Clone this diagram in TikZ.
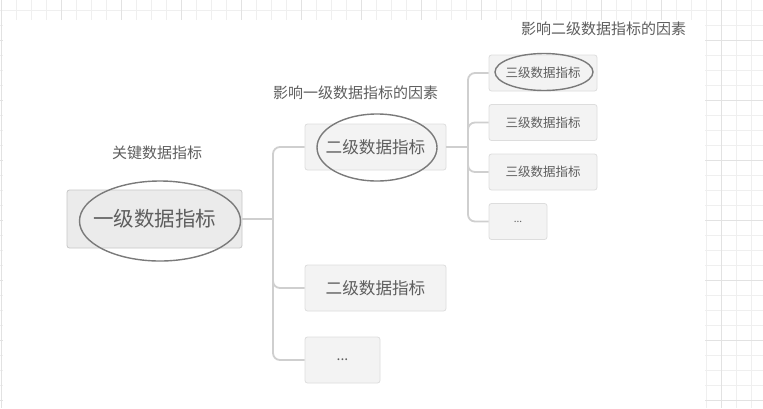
\documentclass[tikz,border=0pt]{standalone}
\usepackage{fontspec}
\setmainfont{Noto Sans CJK SC}
\usetikzlibrary{shapes.geometric}
\definecolor{gridminor}{HTML}{EFEFEF}
\definecolor{gridmajor}{HTML}{E2E2E2}
\definecolor{boxfill}{HTML}{F3F3F3}
\definecolor{rootfill}{HTML}{EBEBEB}
\definecolor{boxline}{HTML}{DDDDDD}
\definecolor{linkc}{HTML}{CFCFCF}
\definecolor{ringc}{HTML}{7A7A7A}
\definecolor{txt}{HTML}{5E5E5E}
\tikzset{
  topic/.style={draw=boxline, fill=boxfill, rounded corners=2.5pt, line width=0.8pt, text=txt, inner sep=0pt},
  roottopic/.style={topic, fill=rootfill, draw=boxline!90!black},
  link/.style={draw=linkc, line width=1.8pt, rounded corners=7pt},
  ring/.style={draw=ringc, line width=1.4pt, ellipse, inner sep=0pt},
  lbl/.style={text=txt, font=\fontsize{15}{17}\selectfont, inner sep=0pt}
}
\begin{document}
\begin{tikzpicture}[x=1pt,y=-1pt]
\useasboundingbox (0,0) rectangle (763,408);
% grid background
\foreach \i in {0,...,51} \draw[gridminor, line width=0.6pt] (1+15*\i,0) -- (1+15*\i,408);
\foreach \i in {0,...,27} \draw[gridminor, line width=0.6pt] (0,10+15*\i) -- (763,10+15*\i);
\foreach \i in {0,...,12} \draw[gridmajor, line width=0.8pt] (1+60*\i,0) -- (1+60*\i,408);
\foreach \i in {0,...,6} \draw[gridmajor, line width=0.8pt] (0,40+60*\i) -- (763,40+60*\i);
\fill[white] (2.5,20) rectangle (705,408);

% nodes
\node[roottopic, minimum width=175, minimum height=58, font=\fontsize{20.5}{22}\selectfont] (root) at (154.5,219) {一级数据指标};
\node[topic, minimum width=141, minimum height=46, font=\fontsize{16.6}{18}\selectfont] (a1) at (375.5,147) {二级数据指标};
\node[topic, minimum width=141, minimum height=46, font=\fontsize{16.6}{18}\selectfont] (a2) at (375.5,288) {二级数据指标};
\node[topic, minimum width=75, minimum height=46, font=\fontsize{14}{16}\selectfont] (a3) at (342.5,360) {...};
\node[topic, minimum width=108, minimum height=36, font=\fontsize{12.5}{14}\selectfont] (b1) at (543,73) {三级数据指标};
\node[topic, minimum width=108, minimum height=36, font=\fontsize{12.5}{14}\selectfont] (b2) at (543,122.5) {三级数据指标};
\node[topic, minimum width=108, minimum height=36, font=\fontsize{12.5}{14}\selectfont] (b3) at (543,172) {三级数据指标};
\node[topic, minimum width=58, minimum height=36, font=\fontsize{10}{12}\selectfont] (b4) at (518,221.5) {...};

% labels
\node[lbl] (l0) at (157,153) {关键数据指标};
\node[lbl] (l1) at (355.5,93) {影响一级数据指标的因素};
\node[lbl] (l2) at (603.5,29) {影响二级数据指标的因素};

% connectors
\coordinate (j0) at (273,219);
\coordinate (j1) at (468,147);
\draw[link, rounded corners=0pt] (root.east) -- (j0);
\draw[link] (j0) |- (a1.west);
\draw[link] (j0) |- (a2.west);
\draw[link] (j0) |- (a3.west);
\draw[link, rounded corners=0pt] (a1.east) -- (j1);
\draw[link] (j1) |- (b1.west);
\draw[link] (j1) |- (b2.west);
\draw[link] (j1) |- (b3.west);
\draw[link] (j1) |- (b4.west);

% highlight rings
\node[ring, minimum width=161, minimum height=80] (r0) at (160,221) {};
\node[ring, minimum width=120, minimum height=67] (r1) at (377,147.5) {};
\node[ring, minimum width=98, minimum height=37] (r2) at (544,72) {};
\end{tikzpicture}
\end{document}
